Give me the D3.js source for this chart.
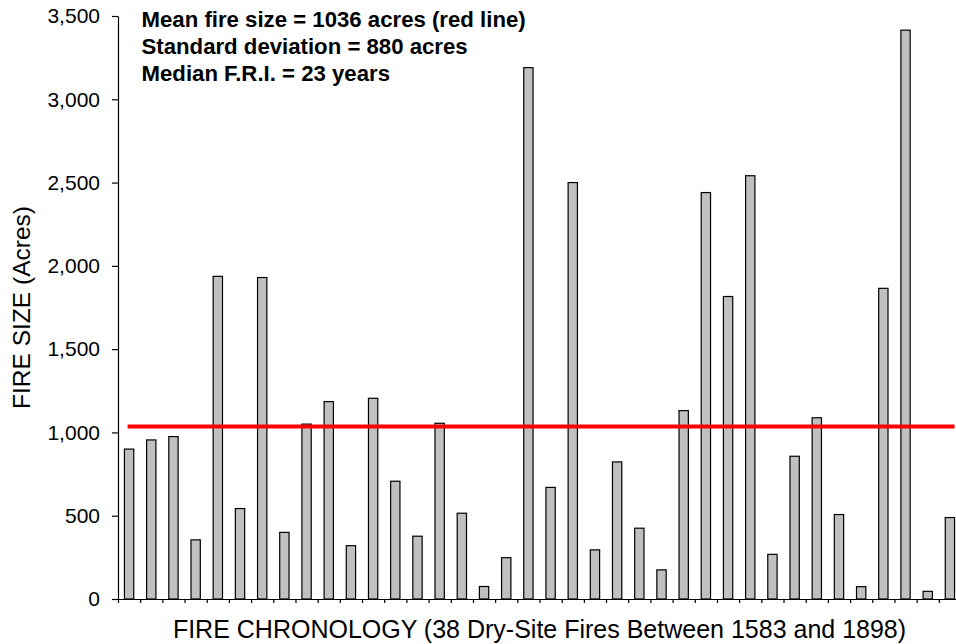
<!DOCTYPE html>
<html>
<head>
<meta charset="utf-8">
<script src="https://d3js.org/d3.v7.min.js"></script>
<style>
  body { margin: 0; background: #fff; }
  svg { display: block; font-family: "Liberation Sans", Arial, sans-serif; }
</style>
</head>
<body>
<div id="chart"></div>
<script>
// fire sizes in acres, in chronological order (38 dry-site fires)
var fireSizes = [900, 955, 975, 355, 1937, 543, 1930, 400, 1050, 1185,
                 320, 1205, 707, 377, 1055, 515, 75, 248, 3190, 670,
                 2500, 295, 823, 425, 175, 1131, 2440, 1816, 2541, 268,
                 857, 1088, 507, 74, 1865, 3415, 46, 489];
var fireIds = fireSizes.map(function(d, i) { return i + 1; });
var yTicks = [0, 500, 1000, 1500, 2000, 2500, 3000, 3500];
var meanSize = 1036;
var notes = ['Mean fire size = 1036 acres (red line)',
             'Standard deviation = 880 acres',
             'Median F.R.I. = 23 years'];
var xTitle = 'FIRE CHRONOLOGY (38 Dry-Site Fires Between 1583 and 1898)';
var yTitle = 'FIRE SIZE (Acres)';

var width = 956;
var height = 644;
var plotLeft = 118;
var plotTop = 16;
var plotBottom = 599;
var plotWidth = 843; // runs a little past the right edge of the window

var svg = d3.select('#chart')
  .append('svg')
  .attr('width', width)
  .attr('height', height);

var x = d3.scaleBand()
  .domain(fireIds)
  .range([0, plotWidth])
  .paddingInner(0.58)
  .paddingOuter(0.29);

// tick marks sit on the category boundaries
var xEdges = d3.scaleLinear()
  .domain([0, fireIds.length])
  .range([0, plotWidth]);

var y = d3.scaleLinear()
  .domain([0, 3500])
  .range([plotBottom, plotTop]);

var g = svg.append('g').attr('transform', 'translate(' + plotLeft + ',0)');

//bars
g.selectAll('.bar')
  .data(fireSizes)
  .enter().append('rect')
  .attr('class', 'bar')
  .attr('x', function(d, i) { return x(fireIds[i]); })
  .attr('y', function(d) { return y(d); })
  .attr('width', x.bandwidth())
  .attr('height', function(d) { return y(0) - y(d); })
  .style('fill', '#c0c0c0')
  .style('stroke', '#000')
  .style('stroke-width', 1.2);

//mean line
g.append('line')
  .attr('x1', x(fireIds[0]) + x.bandwidth() / 2 - 1.5)
  .attr('x2', x(fireIds[fireIds.length - 1]) + x.bandwidth())
  .attr('y1', y(meanSize))
  .attr('y2', y(meanSize))
  .style('stroke', '#ff0000')
  .style('stroke-width', 4);

//axes
var yAxis = g.append('g')
  .call(d3.axisLeft(y)
    .tickValues(yTicks)
    .tickFormat(d3.format(','))
    .tickSize(6)
    .tickSizeOuter(0)
    .tickPadding(12));

var xAxis = g.append('g')
  .attr('transform', 'translate(0,' + plotBottom + ')')
  .call(d3.axisBottom(xEdges)
    .tickValues(d3.range(fireIds.length + 1))
    .tickFormat('')
    .tickSize(4)
    .tickSizeOuter(0));

svg.selectAll('.domain, .tick line')
  .style('stroke', '#000')
  .style('stroke-width', 1.2);

yAxis.selectAll('text')
  .style('font-size', '21px')
  .style('fill', '#000')
  .style('font-family', '"Liberation Sans", Arial, sans-serif');

//titles
svg.append('text')
  .attr('x', plotLeft + plotWidth / 2)
  .attr('y', 638)
  .attr('text-anchor', 'middle')
  .style('font-size', '25px')
  .text(xTitle);

svg.append('text')
  .attr('transform', 'translate(30,' + ((plotTop + plotBottom) / 2) + ') rotate(-90)')
  .attr('text-anchor', 'middle')
  .style('font-size', '24.5px')
  .text(yTitle);

//summary notes
svg.selectAll('.note')
  .data(notes)
  .enter().append('text')
  .attr('class', 'note')
  .attr('x', 141.5)
  .attr('y', function(d, i) { return 26.7 + i * 27.2; })
  .style('font-size', '22.2px')
  .style('font-weight', 'bold')
  .text(function(d) { return d; });
</script>
</body>
</html>
